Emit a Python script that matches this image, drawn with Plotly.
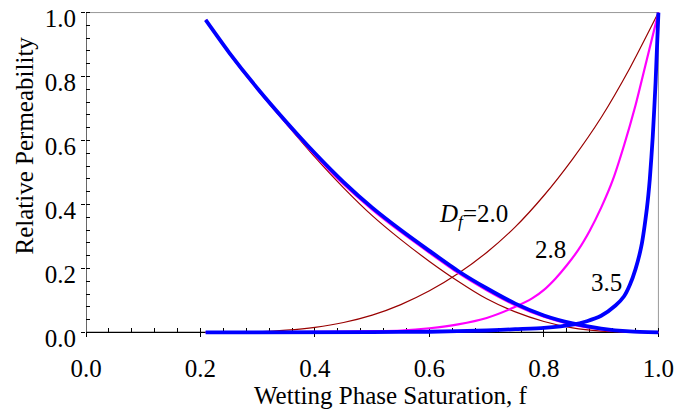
import plotly.graph_objects as go

# ---- data ----
f_nw = [0.209, 0.25, 0.30, 0.35, 0.40, 0.45, 0.50, 0.55, 0.60, 0.65, 0.70, 0.75, 0.80, 0.85, 0.90, 0.95, 1.0]
krnw_20 = [0.977, 0.872, 0.758, 0.652, 0.548, 0.452, 0.365, 0.290, 0.222, 0.160, 0.105, 0.064, 0.034, 0.014, 0.004, 0.0005, 0.0]
krnw_28 = [0.977, 0.873, 0.759, 0.654, 0.555, 0.463, 0.384, 0.314, 0.249, 0.186, 0.132, 0.085, 0.049, 0.024, 0.009, 0.002, 0.0]
krnw_35 = [0.977, 0.875, 0.762, 0.658, 0.560, 0.470, 0.390, 0.320, 0.255, 0.192, 0.138, 0.090, 0.053, 0.028, 0.012, 0.003, 0.0]

f_w20 = [0.209, 0.25, 0.30, 0.35, 0.40, 0.45, 0.50, 0.55, 0.60, 0.65, 0.70, 0.75, 0.80, 0.85, 0.90, 0.95, 1.0]
krw_20 = [0.0, 0.0003, 0.002, 0.007, 0.016, 0.031, 0.054, 0.087, 0.130, 0.184, 0.250, 0.330, 0.428, 0.542, 0.672, 0.826, 1.0]

f_w28 = [0.209, 0.30, 0.40, 0.50, 0.55, 0.60, 0.65, 0.70, 0.75, 0.78, 0.80, 0.82, 0.84, 0.86, 0.88, 0.90, 0.92, 0.94, 0.96, 0.98, 1.0]
krw_28 = [0.0, 0.0005, 0.002, 0.004, 0.006, 0.013, 0.025, 0.045, 0.080, 0.107, 0.133, 0.168, 0.210, 0.258, 0.318, 0.390, 0.475, 0.585, 0.710, 0.855, 1.0]

f_w35 = [0.209, 0.50, 0.60, 0.70, 0.75, 0.80, 0.85, 0.875, 0.90, 0.925, 0.94, 0.95, 0.96, 0.97, 0.98, 0.985, 0.99, 0.995, 1.0]
krw_35 = [0.0, 0.001, 0.002, 0.006, 0.010, 0.014, 0.024, 0.035, 0.052, 0.084, 0.113, 0.148, 0.198, 0.268, 0.390, 0.480, 0.610, 0.780, 1.0]

x_ticks = [0.0, 0.2, 0.4, 0.6, 0.8, 1.0]
x_ticklabels = ["0.0", "0.2", "0.4", "0.6", "0.8", "1.0"]
y_ticks = [0.0, 0.2, 0.4, 0.6, 0.8, 1.0]
y_ticklabels = ["0.0", "0.2", "0.4", "0.6", "0.8", "1.0"]

labels = ["<i>D<sub>f</sub></i>=2.0", "2.8", "3.5"]
label_x = [0.677, 0.8115, 0.909]
label_y = [0.367, 0.258, 0.157]

BROWN = "#990000"
MAGENTA = "#FF00FF"
BLUE = "#0000FF"
FONT = "Liberation Serif, Times New Roman, serif"
FS = 25

fig = go.Figure()
def add(x, y, color, width):
    fig.add_trace(go.Scatter(x=x, y=y, mode="lines",
                             line=dict(color=color, width=width, shape="spline", smoothing=0.6),
                             hoverinfo="skip"))

add(f_w20, krw_20, BROWN, 1.2)
add(f_nw, krnw_20, BROWN, 1.2)
add(f_w28, krw_28, MAGENTA, 2.2)
add(f_nw, krnw_28, MAGENTA, 2.2)
add(f_w35, krw_35, BLUE, 3.8)
add(f_nw, krnw_35, BLUE, 3.8)

# empty helper traces so the overlay axes (inside ticks, shifted y labels) get drawn
fig.add_trace(go.Scatter(x=[], y=[], xaxis="x2", yaxis="y2", mode="lines", hoverinfo="skip"))
fig.add_trace(go.Scatter(x=[], y=[], xaxis="x", yaxis="y3", mode="lines", hoverinfo="skip"))

XR = [0.0, 1.008]
YR = [-0.03, 1.008]
xpos = (0 - YR[0]) / (YR[1] - YR[0])
MT, MB = 5, 73
plot_h = 415 - MT - MB
shift = 6 / (plot_h / (YR[1] - YR[0]))   # y tick labels sit a few px below their ticks
YR3 = [YR[0] + shift, YR[1] + shift]

fig.update_layout(
    width=680, height=415,
    margin=dict(l=86, r=17, t=MT, b=MB),
    paper_bgcolor="white", plot_bgcolor="white",
    showlegend=False,
    font=dict(family=FONT, size=FS, color="black"),
    xaxis=dict(range=XR, tickvals=x_ticks, ticktext=x_ticklabels, ticks="outside", ticklen=4,
               tickcolor="black", showline=False,
               showgrid=False, zeroline=False, anchor="free", position=xpos,
               ticklabelstandoff=10, ticklabeloverflow="allow",
               layer="below traces", tickfont=dict(family=FONT, size=FS)),
    yaxis=dict(range=YR, tickvals=y_ticks, ticks="outside", ticklen=4, showticklabels=False,
               tickcolor="black", showline=False,
               showgrid=False, zeroline=False, anchor="x",
               layer="below traces"),
    xaxis2=dict(range=XR, overlaying="x", anchor="free", position=xpos, side="bottom",
                tick0=0, dtick=0.04,
                ticks="inside", ticklen=4, tickcolor="black", showticklabels=False,
                showline=False, showgrid=False, zeroline=False, layer="below traces"),
    yaxis2=dict(range=YR, overlaying="y", anchor="x", side="left", tick0=0, dtick=0.04,
                ticks="inside", ticklen=4, tickcolor="black", showticklabels=False,
                showline=False, showgrid=False, zeroline=False, layer="below traces"),
    yaxis3=dict(range=YR3, overlaying="y", anchor="x", side="left", tickvals=y_ticks,
                ticktext=y_ticklabels, ticks="", showline=False, showgrid=False, zeroline=False,
                ticklabelstandoff=9, ticklabeloverflow="allow",
                tickfont=dict(family=FONT, size=FS), layer="below traces"),
)

# axis lines (left/bottom black) and frame lines (top/right gray)
fig.add_shape(type="line", xref="x", yref="y", x0=0, x1=1, y0=0, y1=0, line=dict(color="black", width=1.2), layer="below")
fig.add_shape(type="line", xref="x", yref="y", x0=0, x1=0, y0=0, y1=1, line=dict(color="black", width=1.2), layer="below")
fig.add_shape(type="line", xref="x", yref="y", x0=0, x1=1, y0=1, y1=1, line=dict(color="#999999", width=1), layer="below")
fig.add_shape(type="line", xref="x", yref="y", x0=1, x1=1, y0=0, y1=1, line=dict(color="#999999", width=1), layer="below")

for t, lx, ly in zip(labels, label_x, label_y):
    fig.add_annotation(x=lx, y=ly, xref="x", yref="y", text=t, showarrow=False,
                       font=dict(family=FONT, size=FS, color="black"), xanchor="center", yanchor="middle")

plot_w = 680 - 86 - 17
fig.add_annotation(x=(390.5 - 86) / plot_w, y=(415 - MB - 396.7) / plot_h, xref="paper", yref="paper",
                   text="Wetting Phase Saturation, f", showarrow=False,
                   font=dict(family=FONT, size=FS), xanchor="center", yanchor="middle")
fig.add_annotation(x=-(86 - 24) / plot_w, y=(415 - MB - 142.5) / plot_h, xref="paper", yref="paper",
                   text="Relative Permeability", textangle=-90, showarrow=False,
                   font=dict(family=FONT, size=FS), xanchor="center", yanchor="middle")

fig.write_html("out.html")
